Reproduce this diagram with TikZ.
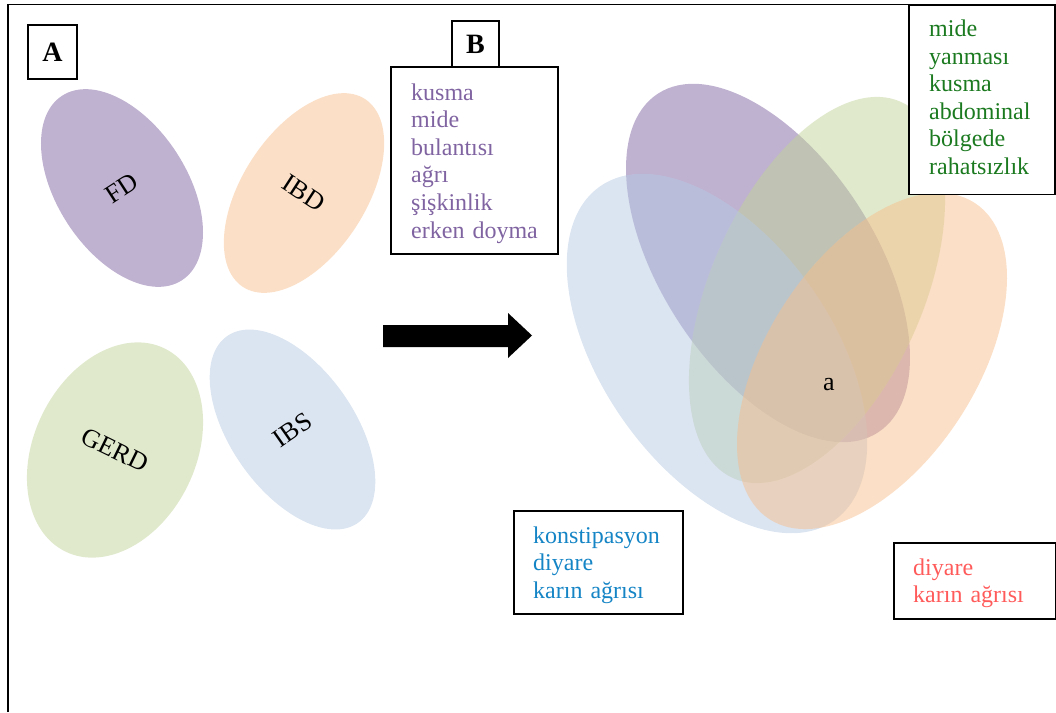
\documentclass[tikz,border=0pt]{standalone}
\usepackage{fontspec}
\setmainfont{Liberation Serif}
\usetikzlibrary{shapes.geometric}
\definecolor{cpurple}{HTML}{8064A2}
\definecolor{cgreen}{HTML}{C1D399}
\definecolor{corange}{HTML}{F7BF8D}
\definecolor{cblue}{HTML}{B7C9E3}
\definecolor{tpurple}{HTML}{8064A2}
\definecolor{tgreen}{HTML}{1B7A1F}
\definecolor{tblue}{HTML}{1585C6}
\definecolor{tred}{HTML}{FF5B5B}
\begin{document}
\begin{tikzpicture}[x=1pt,y=1pt,
  blob/.style={ellipse, draw=none, inner sep=0pt, text opacity=1,
    font=\fontsize{26}{30}\selectfont},
  pu/.style={fill=cpurple, fill opacity=.5},
  gr/.style={fill=cgreen, fill opacity=.5},
  orr/.style={fill=corange, fill opacity=.5},
  bl/.style={fill=cblue, fill opacity=.5},
  box/.style={draw=black, line width=1.8pt, fill=white, inner sep=0pt, anchor=north west},
  list/.style={anchor=base west, inner sep=0pt, align=left, text width=150pt,
    font=\fontsize{24}{27.6}\selectfont},
  tag/.style={font=\bfseries\fontsize{28}{32}\selectfont}
]
\useasboundingbox (0,0) rectangle (1056,-712);
% outer frame
\draw[line width=1.8pt] (8,-712) -- (8,-4.5) -- (1056,-4.5);
% left: four separate ellipses
\node[blob, pu, minimum width=130pt, minimum height=220pt, rotate=33] (fd) at (122,-188) {FD};
\node[blob, orr, minimum width=124pt, minimum height=224pt, rotate=-33] (ibd) at (304,-193) {IBD};
\node[blob, gr, minimum width=162pt, minimum height=226pt, rotate=-26] (gerd) at (115,-450) {GERD};
\node[blob, bl, minimum width=124pt, minimum height=228pt, rotate=35] (ibs) at (292.5,-429.5) {IBS};
% arrow
\fill[black] (383,-325) -- (508,-325) -- (508,-313) -- (532,-335.5) -- (508,-358) -- (508,-347) -- (383,-347) -- cycle;
% right: overlapping ellipses
\node[blob, pu, minimum width=214pt, minimum height=404pt, rotate=33] (bigfd) at (768,-263) {};
\node[blob, gr, minimum width=212pt, minimum height=412pt, rotate=-24] (biggerd) at (817,-290) {};
\node[blob, bl, minimum width=230pt, minimum height=408pt, rotate=35] (bigibs) at (717,-353.5) {};
\node[blob, orr, minimum width=209pt, minimum height=377pt, rotate=-33] (bigibd) at (872,-361) {};
\node[font=\fontsize{26}{30}\selectfont] (acommon) at (829,-385) {a};
% tag boxes
\node[box, tag, minimum width=49pt, minimum height=54pt] (abox) at (27,-24) {A};
\node[box, minimum width=167pt, minimum height=187pt] (fdbox) at (390,-66) {};
\node[box, tag, minimum width=47pt, minimum height=46pt] (bbox) at (451,-20) {B};
\node[list, text=tpurple] (fdlist) at (411,-100) {kusma\\mide\\bulantısı\\ağrı\\şişkinlik\\erken doyma};
% symptom boxes
\node[box, minimum width=146pt, minimum height=189pt] (gerdbox) at (908,-4.5) {};
\node[list, text=tgreen] (gerdlist) at (929,-36.5) {mide\\yanması\\kusma\\abdominal\\bölgede\\rahatsızlık};
\node[box, minimum width=169pt, minimum height=103pt] (ibsbox) at (513,-510) {};
\node[list, text=tblue] (ibslist) at (533,-543) {konstipasyon\\diyare\\karın ağrısı};
\node[box, minimum width=162pt, minimum height=76pt] (ibdbox) at (893,-542) {};
\node[list, text=tred] (ibdlist) at (913,-575) {diyare\\karın ağrısı};
\end{tikzpicture}
\end{document}
